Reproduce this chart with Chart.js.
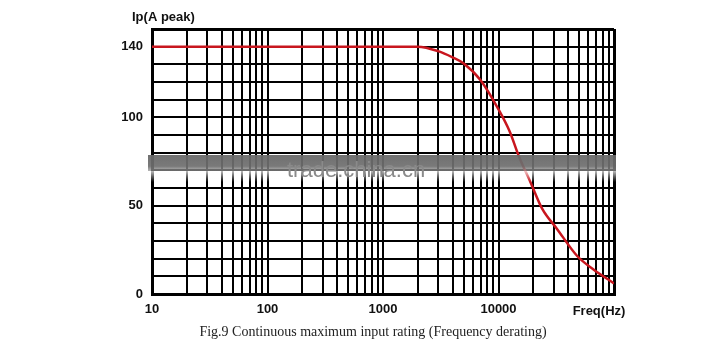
<!DOCTYPE html>
<html>
<head>
<meta charset="utf-8">
<script src="https://cdn.jsdelivr.net/npm/chart.js@4.4.1/dist/chart.umd.min.js"></script>
<style>
  html, body { margin: 0; padding: 0; background: #ffffff; }
  #wrap { width: 725px; height: 355px; position: relative; }
</style>
</head>
<body>
<div id="wrap"><canvas id="c" width="725" height="355"></canvas></div>
<script>
// ---- data ----
const frequencies = [10, 100, 1000, 2000, 3000, 4000, 5000, 7000, 10000, 12500, 15000, 19000, 24000, 32000, 48000, 66000, 100000];
const currents    = [140, 140, 140, 140, 137.5, 134, 130.5, 121, 104.5, 92, 78, 63, 48, 37, 21.5, 14, 6];
const yLabelValues = [0, 50, 100, 140];
const xLabelValues = [10, 100, 1000, 10000];
const xDecades = [10, 100, 1000, 10000];
const xMultiples = [1, 2, 3, 4, 5, 6, 7, 8, 9];
const xMax = 100000;
const yTitle = 'Ip(A peak)';
const xTitle = 'Freq(Hz)';
const caption = 'Fig.9 Continuous maximum input rating (Frequency derating)';
const watermark = 'trade.china.cn';

const xGridValues = [];
xDecades.forEach(d => xMultiples.forEach(m => xGridValues.push(d * m)));
xGridValues.push(xMax);

const boldFont = { family: '"Liberation Sans", Arial, sans-serif', size: 13, weight: 'bold' };

const decorPlugin = {
  id: 'decor',
  afterDatasetsDraw(chart) {
    const ctx = chart.ctx;
    const a = chart.chartArea;
    ctx.save();
    const x0 = a.left - 4, w = a.right - a.left + 6;
    // watermark band (dark top, softer bottom)
    const bg = ctx.createLinearGradient(0, 155, 0, 171);
    bg.addColorStop(0, 'rgba(105,105,105,0.95)');
    bg.addColorStop(0.7, 'rgba(110,110,110,0.92)');
    bg.addColorStop(1, 'rgba(150,150,150,0.7)');
    ctx.fillStyle = bg;
    ctx.fillRect(x0, 155, w, 16);
    // blurred zone below the band
    const g = ctx.createLinearGradient(0, 171, 0, 182);
    g.addColorStop(0, 'rgba(255,255,255,0.75)');
    g.addColorStop(1, 'rgba(255,255,255,0)');
    ctx.fillStyle = g;
    ctx.fillRect(x0, 171, w, 11);
    ctx.font = '22px "Liberation Sans", Arial, sans-serif';
    ctx.fillStyle = '#8a8a8a';
    ctx.textAlign = 'left';
    ctx.textBaseline = 'alphabetic';
    ctx.fillText(watermark, 287, 177);
    ctx.restore();
  },
  afterDraw(chart) {
    const ctx = chart.ctx;
    ctx.save();
    ctx.fillStyle = '#111';
    ctx.font = 'bold 13px "Liberation Sans", Arial, sans-serif';
    ctx.textBaseline = 'middle';
    ctx.textAlign = 'left';
    ctx.fillText(yTitle, 132, 17);
    ctx.textAlign = 'center';
    ctx.fillText(xTitle, 599, 311);
    ctx.font = '14px "Liberation Serif", "Times New Roman", serif';
    ctx.fillStyle = '#222';
    ctx.fillText(caption, 373, 332);
    ctx.restore();
  }
};

new Chart(document.getElementById('c'), {
  type: 'line',
  data: {
    datasets: [{
      data: frequencies.map((f, i) => ({ x: f, y: currents[i] })),
      borderColor: '#c8161e',
      borderWidth: 2.5,
      pointRadius: 0,
      fill: false,
      cubicInterpolationMode: 'monotone'
    }]
  },
  options: {
    responsive: false,
    animation: false,
    layout: { padding: { left: 0, top: 29, right: 111, bottom: 0 } },
    plugins: { legend: { display: false }, tooltip: { enabled: false }, title: { display: false } },
    scales: {
      x: {
        type: 'logarithmic',
        min: 10,
        max: xMax,
        afterBuildTicks: s => { s.ticks = xGridValues.map(v => ({ value: v })); },
        afterFit: s => { s.height = 355 - 294; },
        ticks: {
          autoSkip: false,
          maxRotation: 0,
          minRotation: 0,
          padding: 8,
          color: '#111',
          font: boldFont,
          callback: v => xLabelValues.includes(Math.round(v)) ? String(Math.round(v)) : ''
        },
        grid: {
          color: '#000',
          lineWidth: c => (c.index === 0 || c.index === xGridValues.length - 1) ? 3 : 2,
          drawTicks: false
        },
        border: { display: true, color: '#000', width: 3 }
      },
      y: {
        type: 'linear',
        min: 0,
        max: 150,
        afterFit: s => { s.width = 152; },
        ticks: {
          stepSize: 10,
          autoSkip: false,
          padding: 9,
          color: '#111',
          font: boldFont,
          callback: v => yLabelValues.includes(v) ? String(v) : ''
        },
        grid: {
          color: '#000',
          lineWidth: c => (c.tick && (c.tick.value === 0 || c.tick.value === 150)) ? 3 : 2,
          drawTicks: false
        },
        border: { display: true, color: '#000', width: 3 }
      }
    }
  },
  plugins: [decorPlugin]
});
</script>
</body>
</html>
